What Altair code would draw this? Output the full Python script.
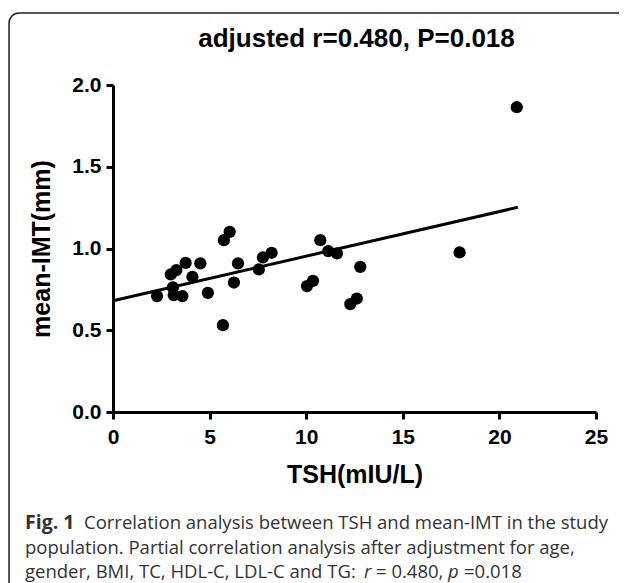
import altair as alt
import pandas as pd

# ---- data ----
tsh = [2.28, 2.99, 3.28, 3.10, 3.14, 3.59, 3.76, 4.11, 4.52, 4.91, 5.69, 5.74, 6.04, 6.26,
       6.47, 7.55, 7.76, 8.21, 10.04, 10.35, 10.73, 11.14, 11.59, 12.28, 12.62, 12.80,
       17.94, 20.90]
imt = [0.709, 0.841, 0.868, 0.762, 0.715, 0.709, 0.912, 0.827, 0.909, 0.729, 0.531, 1.051,
       1.102, 0.792, 0.909, 0.872, 0.945, 0.974, 0.770, 0.802, 1.051, 0.984, 0.970, 0.660,
       0.694, 0.888, 0.976, 1.864]
fit_x = [0.0, 20.95]
fit_y = [0.680, 1.252]
x_ticks = [0, 5, 10, 15, 20, 25]
y_ticks = [0.0, 0.5, 1.0, 1.5, 2.0]

title_text = "adjusted r=0.480, P=0.018"
x_title = "TSH(mIU/L)"
y_title = "mean-IMT(mm)"
cap1_bold = "Fig. 1"
cap1 = "Correlation analysis between TSH and mean-IMT in the study"
cap2 = "population. Partial correlation analysis after adjustment for age,"
cap3 = "gender, BMI, TC, HDL-C, LDL-C and TG:"
cap3_r = "r"
cap3_eq1 = "= 0.480,"
cap3_p = "p"
cap3_eq2 = "=0.018"

W, H = 483, 327
FONT = "Liberation Sans"
CAPFONT = "Open Sans"
CS = 18.5

pts = pd.DataFrame({"tsh": tsh, "imt": imt})
fit = pd.DataFrame({"tsh": fit_x, "imt": fit_y})
one = pd.DataFrame({"a": [0]})

xscale = alt.Scale(domain=[0, 25], nice=False, zero=False)
yscale = alt.Scale(domain=[0, 2], nice=False, zero=False)

xaxis = alt.Axis(values=x_ticks, format="d", grid=False, domainWidth=3, domainColor="black",
                 tickWidth=3, tickColor="black", tickSize=7, labelFont=FONT, labelFontSize=21,
                 labelFontWeight="bold", labelColor="black", labelPadding=7, labelFlush=False,
                 labelOverlap=False, title=x_title, titleFont=FONT, titleFontSize=25,
                 titleFontWeight="bold", titleColor="black", titleX=W / 2, titleY=62,
                 titleBaseline="middle", titleAlign="center")
yaxis = alt.Axis(values=y_ticks, format=".1f", grid=False, domainWidth=3, domainColor="black",
                 tickWidth=3, tickColor="black", tickSize=7, labelFont=FONT, labelFontSize=21,
                 labelFontWeight="bold", labelColor="black", labelPadding=5, labelFlush=False,
                 labelOverlap=False, title=y_title, titleFont=FONT, titleFontSize=25,
                 titleFontWeight="bold", titleColor="black", titleX=-72, titleY=H / 2,
                 titleBaseline="middle", titleAlign="center", titleAngle=-90)

points = alt.Chart(pts).mark_circle(size=150, color="black", opacity=1).encode(
    x=alt.X("tsh:Q", scale=xscale, axis=xaxis),
    y=alt.Y("imt:Q", scale=yscale, axis=yaxis),
)
line = alt.Chart(fit).mark_line(color="black", strokeWidth=3).encode(
    x=alt.X("tsh:Q", scale=xscale),
    y=alt.Y("imt:Q", scale=yscale),
)

border = alt.Chart(one).mark_rect(filled=False, stroke="#222222", strokeWidth=1.5,
                                  cornerRadius=10).encode(
    x=alt.value(-104), x2=alt.value(620), y=alt.value(-72), y2=alt.value(620))


def txt(s, x, y, size, weight="normal", style="normal", align="left", font=CAPFONT,
        color="#333333"):
    return alt.Chart(one).mark_text(text=s, font=font, fontSize=size, fontWeight=weight,
                                    fontStyle=style, align=align, baseline="middle",
                                    color=color).encode(x=alt.value(x), y=alt.value(y))


title = txt(title_text, W / 2 + 2, -46, 26, weight="bold", align="center", font=FONT,
            color="black")
c1a = txt(cap1_bold, -88, 438, 19.5, weight="bold")
c1b = txt(cap1, -29, 438, CS)
c2 = txt(cap2, -88, 463, CS)
c3 = txt(cap3, -88, 487, CS)
c3r = txt(cap3_r, 251, 487, CS, style="italic")
c3e1 = txt(cap3_eq1, 263, 487, CS)
c3p = txt(cap3_p, 335, 487, CS, style="italic")
c3e2 = txt(cap3_eq2, 351, 487, CS)

chart = alt.layer(border, line, points, title, c1a, c1b, c2, c3, c3r, c3e1, c3p, c3e2).properties(
    width=W, height=H,
    autosize=alt.AutoSizeParams(type="none"),
    padding={"left": 105, "top": 77, "right": 23, "bottom": 171},
    background="white",
).configure_view(stroke=None)

chart.save("out.html", embed_options={"renderer": "svg", "actions": False})
